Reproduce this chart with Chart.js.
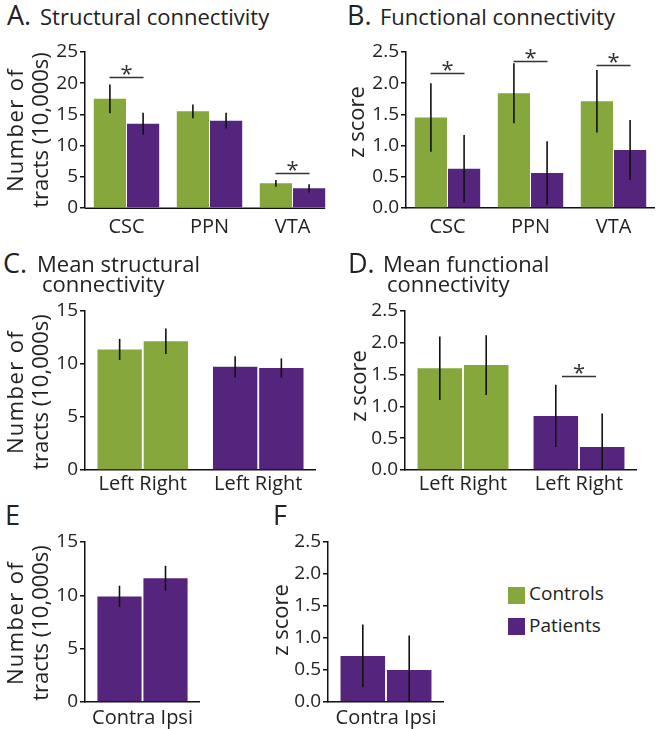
<!DOCTYPE html>
<html><head><meta charset="utf-8">
<script src="https://cdn.jsdelivr.net/npm/chart.js@4"></script>
<style>
html,body{margin:0;padding:0;background:#fff;}
body{width:657px;height:729px;position:relative;overflow:hidden;font-family:'Open Sans',sans-serif;color:#222;}
canvas{position:absolute;}
.t{position:absolute;white-space:nowrap;line-height:1;}
.yt{position:absolute;white-space:nowrap;text-align:center;font-size:22px;line-height:25px;transform:translate(-50%,-50%) rotate(-90deg);}
.sw{position:absolute;width:17px;height:17px;}
</style></head><body>
<canvas id="cA"></canvas><canvas id="cB"></canvas><canvas id="cC"></canvas>
<canvas id="cD"></canvas><canvas id="cE"></canvas><canvas id="cF"></canvas>
<script>
// ---------- DATA ----------
const regions = ['CSC', 'PPN', 'VTA'];
const structCtrl = [17.5, 15.5, 3.95];
const structCtrlErr = [2.3, 1.1, 0.55];
const structPat = [13.5, 14.0, 3.15];
const structPatErr = [1.75, 1.25, 0.65];
const structSig = [0, 2];
const structSigLevel = [21.0, 5.55];

const funcCtrl = [1.45, 1.84, 1.71];
const funcCtrlErr = [0.55, 0.48, 0.5];
const funcPat = [0.63, 0.56, 0.93];
const funcPatErr = [0.54, 0.51, 0.48];
const funcSig = [0, 1, 2];
const funcSigLevel = [2.16, 2.36, 2.29];

const groups = ['Controls', 'Patients'];
const sides = ['Left', 'Right'];
const meanStructLeft = [11.37, 9.73];
const meanStructLeftErr = [1.0, 1.0];
const meanStructRight = [12.15, 9.63];
const meanStructRightErr = [1.2, 0.9];
const meanFuncLeft = [1.60, 0.85];
const meanFuncLeftErr = [0.5, 0.49];
const meanFuncRight = [1.65, 0.36];
const meanFuncRightErr = [0.47, 0.53];
const meanFuncSig = [1];
const meanFuncSigLevel = [1.48];

const lateral = ['Contra', 'Ipsi'];
const latGroup = ['Patients'];
const latStructContra = [9.9];
const latStructContraErr = [1.0];
const latStructIpsi = [11.6];
const latStructIpsiErr = [1.17];
const latFuncContra = [0.72];
const latFuncContraErr = [0.49];
const latFuncIpsi = [0.5];
const latFuncIpsiErr = [0.54];

const tractTicks25 = [0, 5, 10, 15, 20, 25];
const tractTicks15 = [0, 5, 10, 15];
const zTicks = [0, 0.5, 1.0, 1.5, 2.0, 2.5];

const GREEN = '#86a73b';
const PURPLE = '#55247c';

// ---------- PLUGIN ----------
const errPlugin = {
  id: 'errbars',
  afterDatasetsDraw(chart, args, opts) {
    const ctx = chart.ctx, ys = chart.scales.y, xs = chart.scales.x, ca = chart.chartArea;
    // custom x axis line ending at the last bar (when requested)
    if (opts.axisToLastBar) {
      const metas = chart.data.datasets.map((d, i) => chart.getDatasetMeta(i));
      const lastMeta = metas[metas.length - 1];
      const lastBar = lastMeta.data[lastMeta.data.length - 1];
      const right = lastBar.x + lastBar.width / 2;
      ctx.save();
      ctx.strokeStyle = '#111';
      ctx.lineWidth = 1.5;
      ctx.beginPath();
      ctx.moveTo(ca.left, ca.bottom + 0.25);
      ctx.lineTo(right, ca.bottom + 0.25);
      ctx.stroke();
      ctx.restore();
    }
    ctx.save();
    ctx.beginPath();
    ctx.rect(ca.left, 0, ca.right - ca.left, ca.bottom);
    ctx.clip();
    ctx.strokeStyle = '#111';
    ctx.lineWidth = 1.6;
    chart.data.datasets.forEach((ds, i) => {
      const meta = chart.getDatasetMeta(i);
      meta.data.forEach((bar, j) => {
        const v = ds.data[j], e = ds.errors[j];
        const top = ys.getPixelForValue(v + e);
        const bot = ys.getPixelForValue(Math.max(v - e, ys.min));
        ctx.beginPath();
        ctx.moveTo(bar.x, top);
        ctx.lineTo(bar.x, bot);
        ctx.stroke();
      });
    });
    ctx.restore();
    const sig = opts.sig || [], lev = opts.level || [];
    ctx.save();
    sig.forEach((idx, k) => {
      const cx = xs.getPixelForValue(idx);
      const py = Math.round(ys.getPixelForValue(lev[k])) + 0.5;
      ctx.strokeStyle = '#333';
      ctx.lineWidth = 1.5;
      ctx.beginPath();
      ctx.moveTo(cx - 17, py);
      ctx.lineTo(cx + 17, py);
      ctx.stroke();
      ctx.fillStyle = '#333';
      ctx.font = '22px "Open Sans"';
      ctx.textAlign = 'center';
      ctx.textBaseline = 'alphabetic';
      ctx.fillText('*', cx, py + 3);
    });
    ctx.restore();
  }
};

function makeChart(id, g, labels, datasets, yMax, yTicks, dec, catPct, barPct, xPad, sig, level, axisToLastBar) {
  const cv = document.getElementById(id);
  const canvasLeft = g.l - 45, canvasTop = g.t - 14;
  cv.width = g.r - canvasLeft;
  cv.height = g.b - canvasTop + g.xh;
  cv.style.left = canvasLeft + 'px';
  cv.style.top = canvasTop + 'px';
  datasets.forEach(d => { d.categoryPercentage = catPct; d.barPercentage = barPct; d.borderWidth = 0; });
  return new Chart(cv, {
    type: 'bar',
    data: { labels, datasets },
    plugins: [errPlugin],
    options: {
      responsive: false,
      animation: false,
      layout: { padding: { top: 14, left: 0, right: 0, bottom: 0 } },
      plugins: { legend: { display: false }, tooltip: { enabled: false }, errbars: { sig, level, axisToLastBar: !!axisToLastBar } },
      scales: {
        x: {
          grid: { display: false, drawTicks: false },
          border: { display: !axisToLastBar, color: '#111', width: 1.5 },
          ticks: { color: '#222', font: { family: 'Open Sans', size: 20 }, padding: xPad, maxRotation: 0, autoSkip: false },
          afterFit(s) { s.height = g.xh; }
        },
        y: {
          min: 0, max: yMax,
          grid: { display: true, drawOnChartArea: false, drawTicks: true, tickLength: 5, tickColor: '#111', lineWidth: 1.5 },
          border: { display: true, color: '#111', width: 1.5 },
          ticks: { color: '#222', font: { family: 'Open Sans', size: 19 }, padding: 2,
                   callback: v => Number(v).toFixed(dec) },
          afterBuildTicks(s) { s.ticks = yTicks.map(v => ({ value: v })); },
          afterFit(s) { s.width = 45; }
        }
      }
    }
  });
}

function bars(label, data, errors, color) {
  return { label, data, errors, backgroundColor: color };
}

// A
makeChart('cA', { l: 85, r: 334, t: 52, b: 208, xh: 30 }, regions,
  [bars('Controls', structCtrl, structCtrlErr, GREEN), bars('Patients', structPat, structPatErr, PURPLE)],
  25, tractTicks25, 0, 0.8, 0.97, 7, structSig, structSigLevel, true);
// B
makeChart('cB', { l: 406, r: 655, t: 52, b: 208, xh: 30 }, regions,
  [bars('Controls', funcCtrl, funcCtrlErr, GREEN), bars('Patients', funcPat, funcPatErr, PURPLE)],
  2.5, zTicks, 1, 0.8, 0.97, 7, funcSig, funcSigLevel);
// C
const sideLabel = sides.join(' ');
makeChart('cC', { l: 85, r: 316, t: 311, b: 470, xh: 26 }, groups.map(() => sideLabel),
  [bars(sides[0], meanStructLeft, meanStructLeftErr, [GREEN, PURPLE]), bars(sides[1], meanStructRight, meanStructRightErr, [GREEN, PURPLE])],
  15, tractTicks15, 0, 0.8, 0.96, 2, [], []);
// D
makeChart('cD', { l: 405, r: 637, t: 311, b: 470, xh: 26 }, groups.map(() => sideLabel),
  [bars(sides[0], meanFuncLeft, meanFuncLeftErr, [GREEN, PURPLE]), bars(sides[1], meanFuncRight, meanFuncRightErr, [GREEN, PURPLE])],
  2.5, zTicks, 1, 0.8, 0.96, 2, meanFuncSig, meanFuncSigLevel);
// E
const latLabel = lateral.join(' ');
makeChart('cE', { l: 85, r: 200, t: 542, b: 702, xh: 27 }, latGroup.map(() => latLabel),
  [bars(lateral[0], latStructContra, latStructContraErr, PURPLE), bars(lateral[1], latStructIpsi, latStructIpsiErr, PURPLE)],
  15, tractTicks15, 0, 0.8, 0.96, 4, [], []);
// F
makeChart('cF', { l: 328, r: 444, t: 542, b: 702, xh: 27 }, latGroup.map(() => latLabel),
  [bars(lateral[0], latFuncContra, latFuncContraErr, PURPLE), bars(lateral[1], latFuncIpsi, latFuncIpsiErr, PURPLE)],
  2.5, zTicks, 1, 0.8, 0.96, 4, [], []);

// ---------- TEXT ----------
function txt(s, x, baseline, size) {
  const d = document.createElement('div');
  d.className = 't';
  d.textContent = s;
  d.style.fontSize = size + 'px';
  d.style.left = x + 'px';
  d.style.top = (baseline - 0.888 * size) + 'px';
  document.body.appendChild(d);
}
function ytitle(lines, cx, cy) {
  const d = document.createElement('div');
  d.className = 'yt';
  d.innerHTML = lines.map((l, i) => i === 0 && lines.length > 1 ? '<span style="letter-spacing:1.4px">' + l + '</span>' : l).join('<br>');
  d.style.left = cx + 'px';
  d.style.top = cy + 'px';
  document.body.appendChild(d);
}
txt('A.', 7, 25, 27); txt('Structural connectivity', 40, 25, 22);
txt('B.', 347, 25, 27); txt('Functional connectivity', 380, 25, 22);
txt('C.', 3, 273, 27); txt('Mean structural', 37, 272, 22); txt('connectivity', 42, 292, 22);
txt('D.', 348, 273, 27); txt('Mean functional', 383, 272, 22); txt('connectivity', 387, 292, 22);
txt('E', 5, 525, 27);
txt('F', 273, 525, 27);
const tractTitle = ['Number of', 'tracts (10,000s)'];
ytitle(tractTitle, 27, 130);
ytitle(['z score'], 355, 122);
ytitle(tractTitle, 27, 392);
ytitle(['z score'], 357, 386);
ytitle(tractTitle, 27, 623);
ytitle(['z score'], 279, 620);
// legend
[[GREEN, 'Controls', 587, 601], [PURPLE, 'Patients', 618, 633]].forEach(([c, s, top, bl]) => {
  const sq = document.createElement('div');
  sq.className = 'sw'; sq.style.background = c; sq.style.left = '508px'; sq.style.top = top + 'px';
  document.body.appendChild(sq);
  txt(s, 529, bl, 19);
});
</script>
</body></html>
